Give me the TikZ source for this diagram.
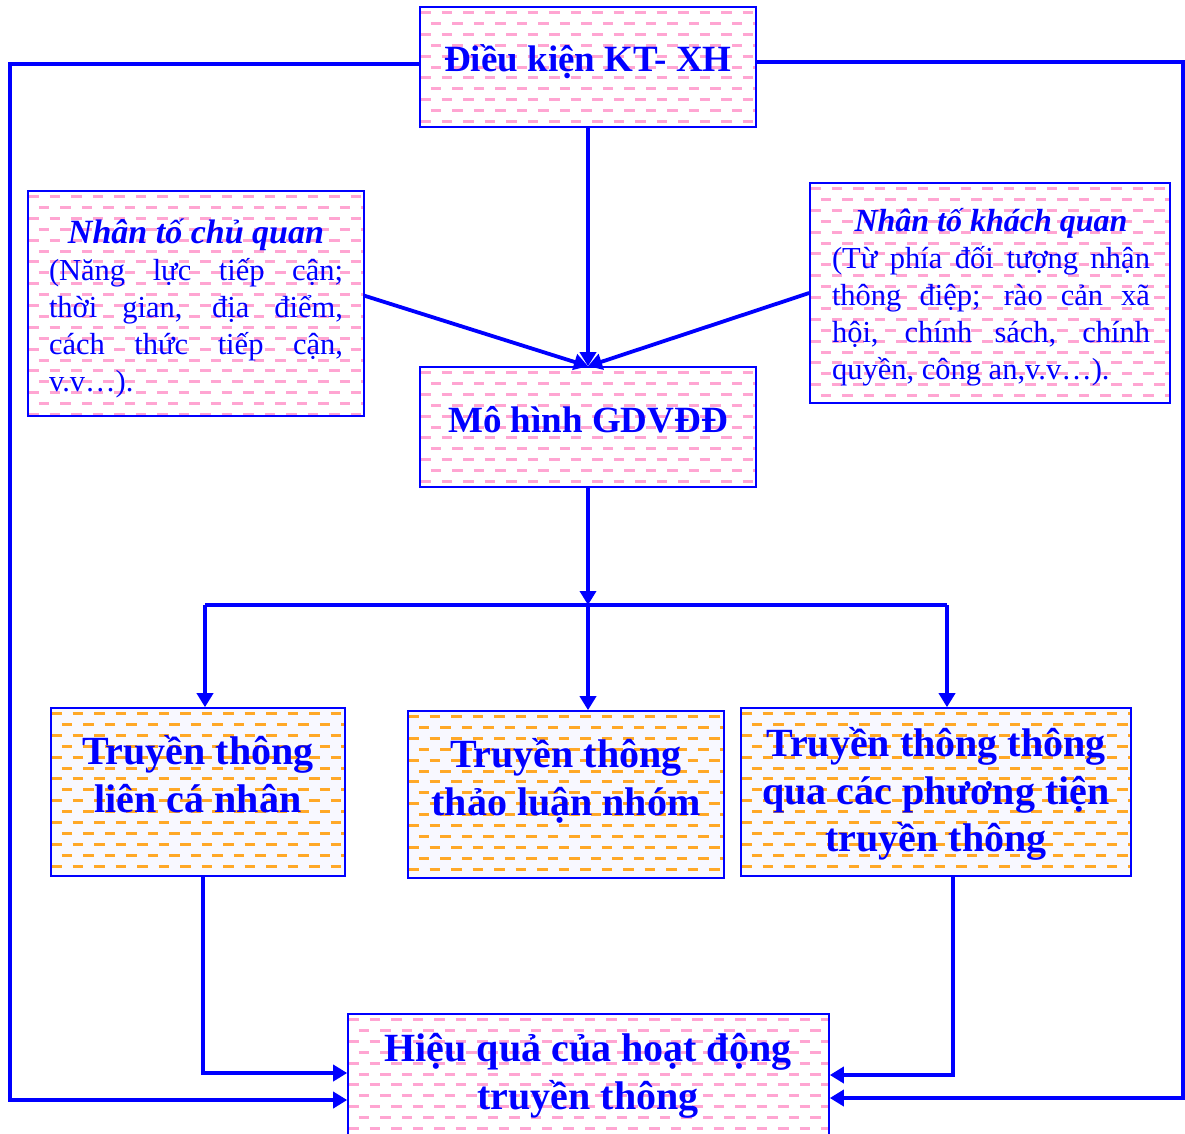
\documentclass[tikz,border=0pt]{standalone}
\usepackage{fontspec}
\setmainfont{Liberation Serif}
\usetikzlibrary{arrows.meta,calc}
\definecolor{dashpink}{RGB}{255,165,210}
\definecolor{dashorange}{RGB}{255,168,40}
\definecolor{txtblue}{RGB}{0,0,255}
\definecolor{lightbg}{RGB}{248,248,255}
\tikzset{
 hatch/.style={path picture={
   \foreach \k in {0,...,22} {
     \pgfmathsetmacro\yy{-(5.5+\k*10.9)}
     \pgfmathsetmacro\ph{mod(\k,2)*10.75}
     \draw[#1, line width=3pt, dash pattern=on 10.5pt off 11pt, dash phase=\ph pt]
       ([yshift=\yy pt]path picture bounding box.north west) -- ++(600pt,0);
   }}},
 box/.style={draw=txtblue, line width=1.6pt, inner sep=0pt},
 pinkbox/.style={box, fill=white, hatch=dashpink},
 orangebox/.style={box, fill=lightbg, hatch=dashorange},
 conn/.style={draw=txtblue, line width=3.8pt},
 arr/.style={conn, -{Triangle[length=14pt,width=16pt]}},
 lbl/.style={text=txtblue, font=\fontsize{40}{47.5}\selectfont\bfseries, align=center, inner sep=0pt},
 para/.style={text=txtblue, inner sep=0pt},
}
\begin{document}
\begin{tikzpicture}[x=1pt,y=-1pt]
\clip (0,0) rectangle (1185,1133);
% boxes
\node[pinkbox, minimum width=336pt, minimum height=120pt] (top) at (588,67) {};
\node[pinkbox, minimum width=336pt, minimum height=120pt] (mid) at (588,427) {};
\node[pinkbox, minimum width=336pt, minimum height=225pt] (left) at (196,303.5) {};
\node[pinkbox, minimum width=360pt, minimum height=220pt] (right) at (990,293) {};
\node[orangebox, minimum width=294pt, minimum height=168pt] (B1) at (198,792) {};
\node[orangebox, minimum width=316pt, minimum height=167pt] (B2) at (566,794.5) {};
\node[orangebox, minimum width=390pt, minimum height=168pt] (B3) at (936,792) {};
\node[pinkbox, minimum width=481pt, minimum height=140pt] (bot) at (588.5,1084) {};
% texts
\node[lbl, font=\fontsize{37}{44}\selectfont\bfseries] (toptxt) at (588,62) {Điều kiện KT- XH};
\node[lbl, font=\fontsize{37}{44}\selectfont\bfseries] (midtxt) at (588,420) {Mô hình GDVĐĐ};
\node[para] (lefttxt) at (196,308) {\parbox{294pt}{\fontsize{30.5}{37}\selectfont\hyphenpenalty=10000
 {\centering\bfseries\itshape\fontsize{34}{39}\selectfont Nhân tố chủ quan\par}
 (Năng lực tiếp cận;\linebreak thời gian, địa điểm,\linebreak cách thức tiếp cận,\linebreak v.v…).}};
\node[para] (righttxt) at (991,297) {\parbox{318pt}{\fontsize{30.5}{37}\selectfont\hyphenpenalty=10000
 {\centering\bfseries\itshape\fontsize{32}{39}\selectfont Nhân tố khách quan\par}
 (Từ phía đối tượng nhận\linebreak thông điệp; rào cản xã\linebreak hội, chính sách, chính\linebreak quyền, công an,v.v…).}};
\node[lbl] (B1txt) at (198,774) {Truyền thông\\liên cá nhân};
\node[lbl] (B2txt) at (566,781) {Truyền thông\\thảo luận nhóm};
\node[lbl] (B3txt) at (936,794) {Truyền thông thông\\qua các phương tiện\\truyền thông};
\node[lbl] (bottxt) at (588,1076) {Hiệu quả của hoạt động\\truyền thông};
% connectors
\coordinate (split) at (588,605);
\coordinate (s1) at (205,605);
\coordinate (s3) at (947,605);
\draw[arr] (top.south) -- (mid.north);
\draw[arr] ($(left.east)+(-1,-8)$) -- (mid.north);
\draw[arr] (right.west) -- (mid.north);
\draw[arr] (mid.south) -- (split);
\draw[conn] (s1) -- (s3);
\draw[arr] (s1) -- (s1 |- B1.north);
\draw[arr] (split) -- (split |- B2.north);
\draw[arr] (s3) -- (s3 |- B3.north);
\draw[arr] (top.west |- 0,64) -- (10,64) -- (10,1100) -- (bot.west |- 0,1100);
\draw[arr] (top.east |- 0,62) -- (1183,62) -- (1183,1098) -- (bot.east |- 0,1098);
\draw[arr] (B1.south -| 203,0) -- (203,1073) -- (bot.west |- 0,1073);
\draw[arr] (B3.south -| 953,0) -- (953,1075) -- (bot.east |- 0,1075);
\end{tikzpicture}
\end{document}
